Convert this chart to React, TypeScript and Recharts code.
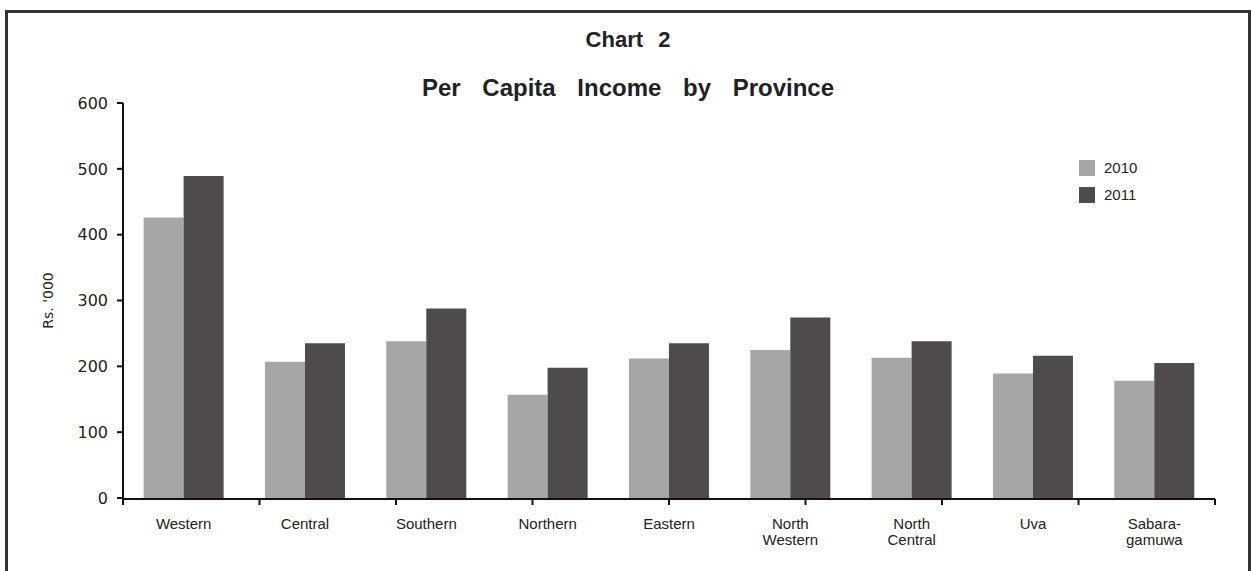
import { BarChart, Bar, XAxis, YAxis, Legend } from "recharts";

// --- DATA (Rs. '000) ---
const provinces = [
  "Western",
  "Central",
  "Southern",
  "Northern",
  "Eastern",
  "North\nWestern",
  "North\nCentral",
  "Uva",
  "Sabara-\ngamuwa",
];
const income2010 = [426, 207, 238, 157, 212, 225, 213, 189, 178];
const income2011 = [489, 235, 288, 198, 235, 274, 238, 216, 205];
const yTicks = [0, 100, 200, 300, 400, 500, 600];

const chartData = provinces.map((name, i) => ({
  name,
  y2010: income2010[i],
  y2011: income2011[i],
}));

// tick marks sit on the category boundaries, not the centres
const edgeTicks = [...provinces.map((_, i) => i), provinces.length];

const LABEL_FONT = "'Liberation Sans', Arial, sans-serif";
const NUM_FONT = "'DejaVu Sans', Verdana, sans-serif";

const ProvinceTick = (props: any) => {
  const { x, y, payload } = props;
  const lines = String(payload.value).split("\n");
  return (
    <text
      x={x}
      y={y}
      textAnchor="middle"
      fill="#222"
      fontSize={15}
      fontFamily={LABEL_FONT}
    >
      {lines.map((line, i) => (
        <tspan key={i} x={x} dy={i === 0 ? 23 : 16}>
          {line}
        </tspan>
      ))}
    </text>
  );
};

const LegendBox = (props: any) => {
  const { payload } = props;
  return (
    <div style={{ whiteSpace: "nowrap", width: 100 }}>
      {(payload || []).map((entry: any) => (
        <div
          key={entry.value}
          style={{ display: "flex", alignItems: "center", height: 27 }}
        >
          <span
            style={{
              width: 16,
              height: 16,
              flexShrink: 0,
              background: entry.color,
              display: "inline-block",
              marginRight: 9,
            }}
          />
          <span style={{ fontFamily: LABEL_FONT, fontSize: 15, color: "#222" }}>
            {entry.value}
          </span>
        </div>
      ))}
    </div>
  );
};

export default function App() {
  return (
    <div
      style={{
        position: "fixed",
        left: 0,
        top: 0,
        width: 1251,
        height: 571,
        overflow: "hidden",
        background: "#fff",
      }}
    >
      {/* frame */}
      <div
        style={{
          position: "absolute",
          left: 5,
          top: 10,
          width: 1246,
          height: 600,
          border: "3px solid #333",
          boxSizing: "border-box",
        }}
      />
      <div
        style={{
          position: "absolute",
          left: 5,
          width: 1246,
          top: 29,
          textAlign: "center",
          fontFamily: LABEL_FONT,
          fontWeight: "bold",
          fontSize: 22,
          lineHeight: "22px",
          color: "#222",
          wordSpacing: 9,
        }}
      >
        Chart 2
      </div>
      <div
        style={{
          position: "absolute",
          left: 5,
          width: 1246,
          top: 76,
          textAlign: "center",
          fontFamily: LABEL_FONT,
          fontWeight: "bold",
          fontSize: 24,
          lineHeight: "24px",
          color: "#222",
          wordSpacing: 15,
        }}
      >
        Per Capita Income by Province
      </div>

      <div style={{ position: "absolute", left: 0, top: 0 }}>
        <BarChart
          width={1251}
          height={571}
          data={chartData}
          margin={{ top: 103, right: 36, left: 0, bottom: 0 }}
          barCategoryGap="17%"
          barGap={0}
        >
          {/* labels only; sits right on the plot bottom */}
          <XAxis
            xAxisId="cat"
            dataKey="name"
            height={1}
            interval={0}
            axisLine={false}
            tickLine={false}
            tick={<ProvinceTick />}
          />
          {/* axis line + boundary ticks */}
          <XAxis
            xAxisId="edge"
            type="number"
            domain={[0, provinces.length]}
            ticks={edgeTicks}
            interval={0}
            height={72}
            tickFormatter={() => ""}
            axisLine={{ stroke: "#111", strokeWidth: 2 }}
            tickLine={{ stroke: "#111", strokeWidth: 2 }}
            tickSize={6}
          />
          <YAxis
            width={123}
            domain={[0, 600]}
            ticks={yTicks}
            interval={0}
            axisLine={{ stroke: "#111", strokeWidth: 2 }}
            tickLine={{ stroke: "#111", strokeWidth: 2 }}
            tickSize={6}
            tickMargin={9}
            tick={{ fill: "#222", fontSize: 16, fontFamily: NUM_FONT }}
            label={{
              value: "Rs. '000",
              angle: -90,
              position: "insideLeft",
              offset: 48,
              style: {
                fill: "#222",
                fontSize: 14,
                fontFamily: NUM_FONT,
                textAnchor: "middle",
              },
            }}
          />
          <Legend
            layout="vertical"
            verticalAlign="top"
            align="right"
            content={<LegendBox />}
            wrapperStyle={{ position: "absolute", left: 1079, top: 154, width: 0, height: 0, overflow: "visible" }}
          />
          <Bar
            xAxisId="cat"
            dataKey="y2010"
            name="2010"
            fill="#a6a6a6"
            isAnimationActive={false}
          />
          <Bar
            xAxisId="cat"
            dataKey="y2011"
            name="2011"
            fill="#4f4b4c"
            isAnimationActive={false}
          />
        </BarChart>
      </div>
    </div>
  );
}
